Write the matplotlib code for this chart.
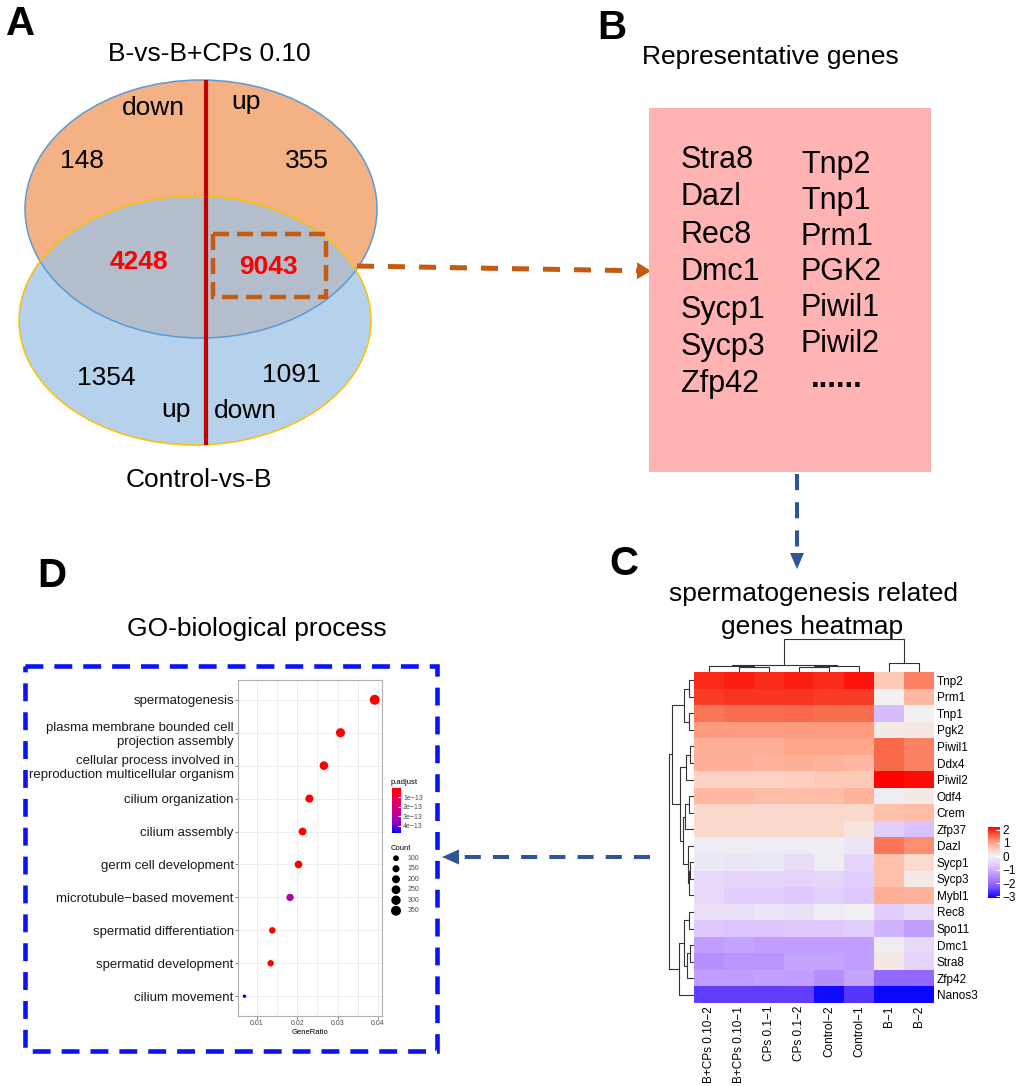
import numpy as np
import matplotlib
matplotlib.use("Agg")
import matplotlib.pyplot as plt
from matplotlib.patches import Ellipse, Rectangle, Polygon
from matplotlib.colors import LinearSegmentedColormap, Normalize
from matplotlib.cm import ScalarMappable

plt.rcParams['font.family'] = ['Liberation Sans', 'DejaVu Sans']

# ---------------- data ----------------
# A: venn of the two comparisons
venn_titles = ["B-vs-B+CPs 0.10", "Control-vs-B"]
venn_only_top = [148, 355]        # down, up
venn_overlap = [4248, 9043]
venn_only_bottom = [1354, 1091]   # up, down

# B: representative genes
genes_left = ["Stra8", "Dazl", "Rec8", "Dmc1", "Sycp1", "Sycp3", "Zfp42"]
genes_right = ["Tnp2", "Tnp1", "Prm1", "PGK2", "Piwil1", "Piwil2"]

# C: heatmap (z-scores, rows in dendrogram order)
hm_genes = ["Tnp2", "Prm1", "Tnp1", "Pgk2", "Piwil1", "Ddx4", "Piwil2", "Odf4",
            "Crem", "Zfp37", "Dazl", "Sycp1", "Sycp3", "Mybl1", "Rec8", "Spo11",
            "Dmc1", "Stra8", "Zfp42", "Nanos3"]
hm_samples = ["B+CPs 0.10\u22122", "B+CPs 0.10\u22121", "CPs 0.1\u22121", "CPs 0.1\u22122",
              "Control\u22122", "Control\u22121", "B\u22121", "B\u22122"]
hm_values = [
    [1.90, 2.00, 1.90, 2.00, 1.90, 2.05, 0.60, 1.30],
    [1.80, 1.85, 1.85, 1.85, 1.80, 1.80, 0.00, 0.80],
    [1.40, 1.45, 1.45, 1.50, 1.45, 1.45, -0.90, 0.00],
    [1.10, 1.10, 1.10, 1.10, 1.10, 1.10, 0.10, 0.15],
    [0.90, 0.90, 0.90, 1.00, 1.00, 1.00, 1.50, 1.30],
    [0.90, 0.90, 0.85, 0.90, 0.85, 0.80, 1.50, 1.30],
    [0.50, 0.50, 0.50, 0.55, 0.60, 0.60, 2.15, 2.10],
    [0.80, 0.80, 0.75, 0.75, 0.75, 0.85, -0.10, 0.10],
    [0.40, 0.40, 0.40, 0.40, 0.40, 0.40, 0.70, 0.75],
    [0.40, 0.40, 0.40, 0.40, 0.40, 0.20, -0.60, -0.80],
    [-0.10, -0.10, -0.10, -0.10, -0.10, -0.20, 1.40, 1.20],
    [-0.15, -0.20, -0.15, -0.35, -0.10, -0.50, 0.70, 0.35],
    [-0.40, -0.50, -0.50, -0.50, -0.45, -0.60, 0.70, 0.10],
    [-0.40, -0.60, -0.60, -0.70, -0.55, -0.70, 0.90, 0.85],
    [-0.30, -0.30, -0.20, -0.30, -0.10, -0.05, -0.60, -0.40],
    [-0.70, -0.75, -0.75, -0.70, -0.70, -0.60, -1.00, -1.30],
    [-1.30, -1.20, -1.30, -1.30, -1.30, -1.30, -0.10, -0.40],
    [-1.50, -1.40, -1.40, -1.20, -1.20, -1.30, 0.15, -0.50],
    [-1.30, -1.30, -1.25, -1.30, -1.50, -1.20, -2.00, -2.00],
    [-2.50, -2.50, -2.50, -2.50, -3.00, -2.60, -3.05, -3.05],
]
# merges (left, right, height); ids >= n are earlier merges
row_links = [(0, 1, 1.4), (2, 3, 1.4), (20, 21, 3.75), (4, 5, 1.0), (23, 6, 3.0),
             (7, 8, 1.4), (25, 9, 3.3), (11, 12, 1.0), (27, 13, 1.5), (10, 28, 2.2),
             (26, 29, 3.9), (24, 30, 5.5), (22, 31, 8.9), (14, 15, 1.4), (16, 17, 1.0),
             (34, 18, 2.4), (33, 35, 3.75), (36, 19, 5.8), (32, 37, 10.0)]
col_links = [(1, 2, 4.0), (0, 8, 5.0), (3, 4, 4.0), (10, 5, 5.0), (9, 11, 6.5),
             (6, 7, 9.0), (12, 13, 35.0)]

# D: GO enrichment
go_terms = ["spermatogenesis",
            "plasma membrane bounded cell\nprojection assembly",
            "cellular process involved in\nreproduction multicellular organism",
            "cilium organization", "cilium assembly", "germ cell development",
            "microtubule\u2212based movement", "spermatid differentiation",
            "spermatid development", "cilium movement"]
go_ratio = [0.0392, 0.0307, 0.0266, 0.0230, 0.0213, 0.0203, 0.0182, 0.0138, 0.0134, 0.0069]
go_count = [355, 278, 241, 208, 193, 184, 165, 125, 121, 62]
go_padj = [1.2e-31, 2.5e-22, 3.1e-20, 5.6e-19, 8.4e-18, 2.3e-17, 3.05e-13, 6.7e-16, 9.1e-16, 4.74e-13]
count_breaks = [100, 150, 200, 250, 300, 350]
padj_breaks = [1e-13, 2e-13, 3e-13, 4e-13]

# ---------------- figure ----------------
W, H = 1020, 1086
fig = plt.figure(figsize=(W / 100, H / 100), dpi=100)
canvas = fig.add_axes([0, 0, 1, 1])
canvas.set_xlim(0, W)
canvas.set_ylim(H, 0)
canvas.axis('off')


def px_axes(x0, y0, x1, y1):
    # axes placed by pixel box (top-left origin)
    return fig.add_axes([x0 / W, 1 - y1 / H, (x1 - x0) / W, (y1 - y0) / H])


def dashed_arrow(x0, y0, x1, y1, color, lw, dash, head_len, head_w):
    L = np.hypot(x1 - x0, y1 - y0)
    ux, uy = (x1 - x0) / L, (y1 - y0) / L
    bx, by = x1 - ux * head_len, y1 - uy * head_len
    canvas.plot([x0, bx], [y0, by], color=color, lw=lw, ls=(0, dash),
                dash_capstyle='butt')
    px, py = -uy * head_w / 2, ux * head_w / 2
    canvas.add_patch(Polygon([(x1, y1), (bx + px, by + py), (bx - px, by - py)],
                             closed=True, fc=color, ec='none'))


def draw_dendrogram(ax, links, n, vertical_leaves):
    pos = {i: float(i) for i in range(n)}
    hgt = {i: 0.0 for i in range(n)}
    for k, (a, b, h) in enumerate(links):
        hs = [hgt[a], h, h, hgt[b]]
        ps = [pos[a], pos[a], pos[b], pos[b]]
        if vertical_leaves:
            ax.plot(hs, ps, color='#333333', lw=0.8, clip_on=False)
        else:
            ax.plot(ps, hs, color='#333333', lw=0.8, clip_on=False)
        pos[n + k] = (pos[a] + pos[b]) / 2
        hgt[n + k] = h
    ax.axis('off')


# ---- panel A ----
canvas.text(6, 5, "A", fontsize=29, weight='bold', ha='left', va='top')
top = Ellipse((201, 209), 352, 258, fc='#F4B183', ec='none')
bot = Ellipse((195, 320.5), 352, 249, fc='#B5D1EC', ec='none')
canvas.add_patch(top)
canvas.add_patch(bot)
ov = Ellipse((195, 320.5), 352, 249, fc='#B3BDCB', ec='none')
canvas.add_patch(ov)
ov.set_clip_path(top)
canvas.add_patch(Ellipse((201, 209), 352, 258, fc='none', ec='#5B9BD5', lw=1.1))
canvas.add_patch(Ellipse((195, 320.5), 352, 249, fc='none', ec='#FFC000', lw=1.1))
canvas.plot([206, 206], [80, 445], color='#C00000', lw=3.0, solid_capstyle='butt')

fs = 19
canvas.text(209, 54, venn_titles[0], fontsize=fs, ha='center', va='center')
canvas.text(199, 480, venn_titles[1], fontsize=fs, ha='center', va='center')
canvas.text(153, 108, "down", fontsize=fs, ha='center', va='center')
canvas.text(246, 102, "up", fontsize=fs, ha='center', va='center')
canvas.text(82, 161, str(venn_only_top[0]), fontsize=fs, ha='center', va='center')
canvas.text(307, 161, str(venn_only_top[1]), fontsize=fs, ha='center', va='center')
canvas.text(139, 262, str(venn_overlap[0]), fontsize=fs, ha='center', va='center',
            color='#FF0000', weight='bold')
canvas.text(268, 267, str(venn_overlap[1]), fontsize=fs, ha='center', va='center',
            color='#FF0000', weight='bold')
canvas.text(106, 378, str(venn_only_bottom[0]), fontsize=fs, ha='center', va='center')
canvas.text(291, 375, str(venn_only_bottom[1]), fontsize=fs, ha='center', va='center')
canvas.text(176, 410, "up", fontsize=fs, ha='center', va='center')
canvas.text(245, 411, "down", fontsize=fs, ha='center', va='center')

canvas.add_patch(Rectangle((213, 234), 113, 63, fill=False, ec='#C55A11', lw=3.2,
                           ls=(0, (3.6, 1.8))))
dashed_arrow(357, 266, 651, 271, '#C55A11', 3.6, (3.4, 2.8), 14, 17)

# ---- panel B ----
canvas.text(597, 9, "B", fontsize=29, weight='bold', ha='left', va='top')
canvas.text(770, 57, "Representative genes", fontsize=fs, ha='center', va='center')
canvas.add_patch(Rectangle((649, 108), 282, 364, fc='#FFB3B3', ec='none'))
for i, g in enumerate(genes_left):
    canvas.text(681, 160 + 37.4 * i, g, fontsize=22, ha='left', va='center')
for i, g in enumerate(genes_right):
    canvas.text(801, 165 + 35.8 * i, g, fontsize=22, ha='left', va='center')
canvas.text(811, 387, "......", fontsize=22, weight='bold', ha='left', va='baseline')

dashed_arrow(797, 474, 797, 569, '#2F5597', 2.9, (4, 3), 16, 14)

# ---- panel C ----
canvas.text(609, 545, "C", fontsize=29, weight='bold', ha='left', va='top')
canvas.text(814, 594, "spermatogenesis related", fontsize=fs, ha='center', va='center')
canvas.text(812, 627, "genes heatmap", fontsize=fs, ha='center', va='center')

vals = np.array(hm_values)
vmin, vmax = -3.12, 2.19
blue_half = ['#0000FF', '#7E51FF', '#B38BFF', '#DCC4FF', '#F2F2F2']
red_half = ['#F2F2F2', '#FFCFBF', '#FF9E81', '#F85738', '#FF0000']
stops = list(np.linspace(vmin, 0, 5)) + list(np.linspace(0, vmax, 5))[1:]
cols = blue_half + red_half[1:]
hm_cmap = LinearSegmentedColormap.from_list(
    'hm', [((v - vmin) / (vmax - vmin), c) for v, c in zip(stops, cols)])
hm_norm = Normalize(vmin, vmax)

ax_hm = px_axes(694, 672, 934, 1003)
ax_hm.imshow(vals, cmap=hm_cmap, norm=hm_norm, aspect='auto', interpolation='nearest')
ax_hm.set_xticks(range(len(hm_samples)))
ax_hm.set_xticklabels(hm_samples, rotation=90, fontsize=8.5)
ax_hm.set_yticks(range(len(hm_genes)))
ax_hm.set_yticklabels(hm_genes, fontsize=8.5)
ax_hm.yaxis.tick_right()
ax_hm.tick_params(length=0, pad=2)
for s in ax_hm.spines.values():
    s.set_visible(False)

ax_rd = px_axes(669, 672, 693, 1003)
ax_rd.set_xlim(10.0, -0.1)
ax_rd.set_ylim(len(hm_genes) - 0.5, -0.5)
draw_dendrogram(ax_rd, row_links, len(hm_genes), True)

ax_cd = px_axes(694, 639, 934, 671)
ax_cd.set_xlim(-0.5, len(hm_samples) - 0.5)
ax_cd.set_ylim(-0.3, 35.0)
draw_dendrogram(ax_cd, col_links, len(hm_samples), False)

cax = px_axes(988, 827, 1000, 898)
cb = fig.colorbar(ScalarMappable(hm_norm, hm_cmap), cax=cax, ticks=[-3, -2, -1, 0, 1, 2])
cb.outline.set_visible(False)
cax.tick_params(labelsize=8.5, length=3, color='white', direction='in', pad=2)

dashed_arrow(650, 857, 442, 857, '#2F5597', 2.9, (4, 3), 17, 15)

# ---- panel D ----
canvas.text(37, 557, "D", fontsize=29, weight='bold', ha='left', va='top')
canvas.text(257, 629, "GO-biological process", fontsize=fs, ha='center', va='center')
canvas.add_patch(Rectangle((25, 666), 412, 385, fill=False, ec='#0A14F5', lw=3.3,
                           ls=(0, (3.9, 2.4))))

padj_cmap = LinearSegmentedColormap.from_list(
    'padj', ['#FF0000', '#E80050', '#C90089', '#9A00C3', '#0000FF'])
padj_norm = Normalize(min(go_padj), max(go_padj))


def count_size(c):
    # ggplot-like area scale: diameter 3.5..10 px
    lo, hi = min(go_count), max(go_count)
    d = 3.5 + 6.5 * np.sqrt(np.clip((np.asarray(c, float) - lo) / (hi - lo), 0, 1))
    return (d * 72 / 100) ** 2


ax_dot = px_axes(238, 680, 382, 1016)
ypos = np.arange(len(go_terms))
ax_dot.scatter(go_ratio, ypos, s=count_size(go_count), c=go_padj, cmap=padj_cmap,
               norm=padj_norm, edgecolors='none', zorder=3)
ax_dot.set_ylim(len(go_terms) - 0.4, -0.6)
ax_dot.set_xlim(0.0053, 0.041)
ax_dot.set_yticks(ypos)
ax_dot.set_yticklabels(go_terms, fontsize=9.5, color='#1A1A1A')
for t in ax_dot.get_yticklabels():
    t.set_linespacing(1.2)
ax_dot.set_xticks([0.01, 0.02, 0.03, 0.04])
ax_dot.set_xticklabels(["0.01", "0.02", "0.03", "0.04"], fontsize=5, color='#4D4D4D')
ax_dot.set_xticks([0.015, 0.025, 0.035], minor=True)
ax_dot.grid(True, which='both', color='#EBEBEB', lw=0.6)
ax_dot.set_axisbelow(True)
ax_dot.set_xlabel("GeneRatio", fontsize=5.5, labelpad=1)
ax_dot.tick_params(length=2, width=0.5, color='#555555', pad=1)
ax_dot.tick_params(which='minor', length=0)
for s in ax_dot.spines.values():
    s.set_color('#B0B0B0')
    s.set_linewidth(0.8)

canvas.text(391, 783, "p.adjust", fontsize=5.5, ha='left', va='center')
cax2 = px_axes(392, 788, 401, 833)
cb2 = fig.colorbar(ScalarMappable(padj_norm, padj_cmap), cax=cax2, ticks=padj_breaks)
cb2.outline.set_visible(False)
cb2.set_ticklabels([f"{v:.0e}".replace("-", "\u2212").replace("+", "")
                    for v in padj_breaks])
cax2.invert_yaxis()
cax2.tick_params(labelsize=5, length=2, color='white', direction='in', pad=1.5,
                 labelcolor='#4D4D4D')

canvas.text(391, 848, "Count", fontsize=5.5, ha='left', va='center')
ax_leg = px_axes(389, 853, 403, 916)
ax_leg.scatter(np.zeros(len(count_breaks)), np.arange(len(count_breaks)),
               s=count_size(count_breaks), c='black', edgecolors='none')
for i, c in enumerate(count_breaks):
    ax_leg.text(1.7, i, str(c), fontsize=5, va='center', ha='left',
                color='#4D4D4D', clip_on=False)
ax_leg.set_xlim(-1, 1)
ax_leg.set_ylim(len(count_breaks) - 0.5, -0.5)
ax_leg.axis('off')

fig.savefig("out.png", dpi=100, facecolor='white')
